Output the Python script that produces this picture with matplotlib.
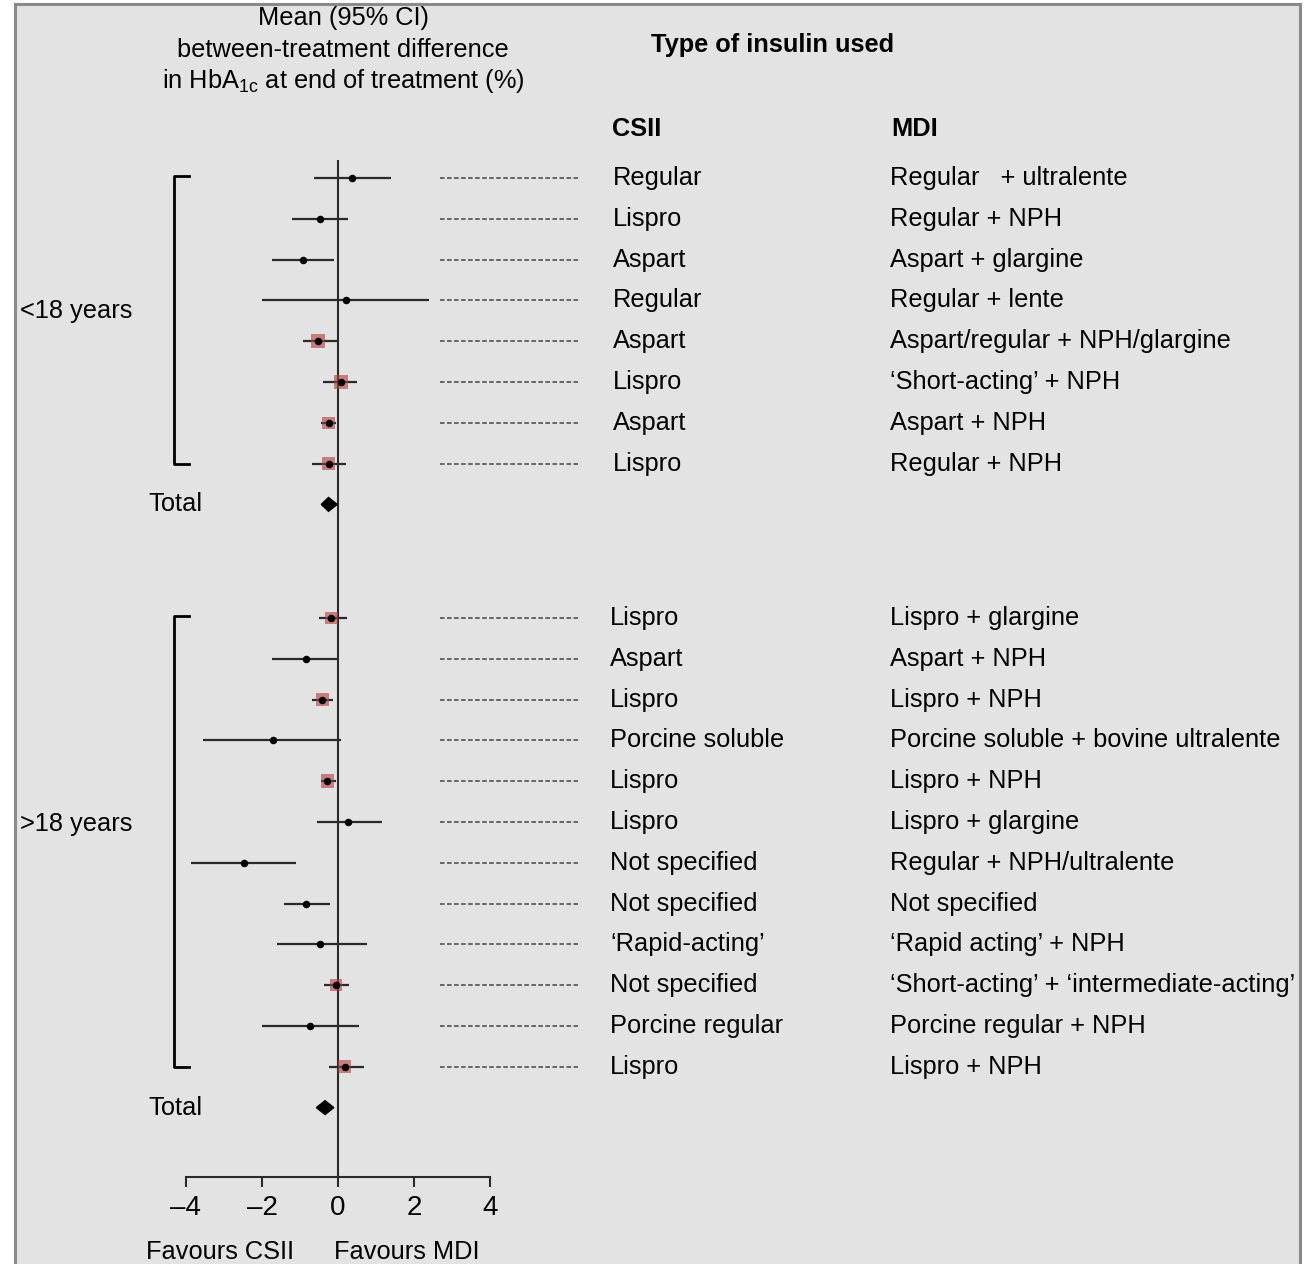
import matplotlib
matplotlib.use('Agg')
import matplotlib.pyplot as plt
from matplotlib.patches import Rectangle
from matplotlib.transforms import blended_transform_factory

plt.rcParams['font.family'] = ['Liberation Sans', 'DejaVu Sans']
plt.rcParams['mathtext.fontset'] = 'custom'
plt.rcParams['mathtext.rm'] = 'Liberation Sans'

# ---- data: <18 years ----
young_mean = [0.38, -0.47, -0.92, 0.20, -0.53, 0.07, -0.25, -0.25]
young_lo = [-0.63, -1.21, -1.73, -2.00, -0.91, -0.39, -0.46, -0.69]
young_hi = [1.40, 0.27, -0.10, 2.39, 0.00, 0.50, -0.04, 0.22]
young_weight = [0, 0, 0, 0, 110, 100, 80, 80]
young_csii = ['Regular', 'Lispro', 'Aspart', 'Regular', 'Aspart', 'Lispro', 'Aspart', 'Lispro']
young_mdi = ['Regular   + ultralente', 'Regular + NPH', 'Aspart + glargine', 'Regular + lente',
             'Aspart/regular + NPH/glargine', '\u2018Short-acting\u2019 + NPH', 'Aspart + NPH',
             'Regular + NPH']
young_total = [-0.25, -0.44, -0.02]  # mean, lo, hi

# ---- data: >18 years ----
adult_mean = [-0.18, -0.85, -0.41, -1.71, -0.28, 0.25, -2.48, -0.85, -0.47, -0.04, -0.74, 0.18]
adult_lo = [-0.50, -1.73, -0.68, -3.55, -0.44, -0.55, -3.88, -1.42, -1.61, -0.38, -2.00, -0.24]
adult_hi = [0.23, 0.00, -0.12, 0.07, -0.04, 1.16, -1.10, -0.22, 0.76, 0.30, 0.54, 0.68]
adult_weight = [85, 0, 95, 0, 95, 0, 0, 0, 0, 75, 0, 90]
adult_csii = ['Lispro', 'Aspart', 'Lispro', 'Porcine soluble', 'Lispro', 'Lispro', 'Not specified',
              'Not specified', '\u2018Rapid-acting\u2019', 'Not specified', 'Porcine regular', 'Lispro']
adult_mdi = ['Lispro + glargine', 'Aspart + NPH', 'Lispro + NPH', 'Porcine soluble + bovine ultralente',
             'Lispro + NPH', 'Lispro + glargine', 'Regular + NPH/ultralente', 'Not specified',
             '\u2018Rapid acting\u2019 + NPH', '\u2018Short-acting\u2019 + \u2018intermediate-acting\u2019',
             'Porcine regular + NPH', 'Lispro + NPH']
adult_total = [-0.34, -0.57, -0.11]

xticks = [-4, -2, 0, 2, 4]
xticklabels = ['\u20134', '\u20132', '0', '2', '4']

W, H = 1314, 1264
FS = 18.3
fig = plt.figure(figsize=(W / 100, H / 100), dpi=100, facecolor='white')


def fx(p):
    return p / W


def fy(p):
    return 1 - p / H


# grey panel with border
fig.patches.append(Rectangle((fx(15), -0.05), fx(1300 - 15), fy(4) + 0.05,
                             transform=fig.transFigure, facecolor='#e3e3e3',
                             edgecolor='#8a8a8a', linewidth=2.2, zorder=-5))

row_px = 40.8
ax = fig.add_axes([fx(186), fy(1177), fx(490 - 186), (1177 - 160) / H])
ax.set_facecolor('none')
ax.set_zorder(2)
trans = blended_transform_factory(fig.transFigure, ax.transData)

young_y = list(range(len(young_mean)))
young_tot_y = len(young_mean)
adult_start = (618 - 178) / row_px
adult_y = [adult_start + i for i in range(len(adult_mean))]
adult_tot_y = adult_start + len(adult_mean)

ax.axvline(0, color='#2a2a2a', lw=1.5, zorder=2)


def draw_group(ys, mean, lo, hi, weight, csii, mdi, tot, tot_y, label, label_y, csii_x):
    ax.hlines(ys, lo, hi, color='#2a2a2a', lw=1.6, zorder=3)
    red = [i for i in range(len(ys)) if weight[i] > 0]
    ax.scatter([mean[i] for i in red], [ys[i] for i in red], s=[weight[i] for i in red],
               marker='s', color='#b23a3a', alpha=0.6, linewidths=0, zorder=3)
    ax.plot(mean, ys, 'o', ms=4.4, color='black', zorder=4)
    m, l, h = tot
    ax.fill([l, m, h, m], [tot_y, tot_y - 0.17, tot_y, tot_y + 0.17], color='black', zorder=4)
    # bracket
    ax.plot([fx(189), fx(174), fx(174), fx(189)], [ys[0] - 0.06, ys[0] - 0.06, ys[-1], ys[-1]],
            transform=trans, color='black', lw=2, clip_on=False)
    ax.text(fx(20), label_y, label, transform=trans, fontsize=FS, va='center', ha='left')
    ax.text(fx(148), tot_y, 'Total', transform=trans, fontsize=FS, va='center', ha='left')
    for i, y in enumerate(ys):
        ax.plot([fx(440), fx(578)], [y, y], transform=trans, color='#444444', lw=1.1,
                ls=(0, (3, 1.6)), clip_on=False)
        ax.text(csii_x, y, csii[i], transform=trans, fontsize=FS, va='center', ha='left')
        ax.text(fx(890), y, mdi[i], transform=trans, fontsize=FS, va='center', ha='left')


draw_group(young_y, young_mean, young_lo, young_hi, young_weight, young_csii, young_mdi,
           young_total, young_tot_y, '<18 years', (311 - 178) / row_px, fx(613))
draw_group(adult_y, adult_mean, adult_lo, adult_hi, adult_weight, adult_csii, adult_mdi,
           adult_total, adult_tot_y, '>18 years', (824 - 178) / row_px, fx(610))

ax.set_xlim(-4, 4)
ax.set_ylim((1177 - 178) / row_px, (160 - 178) / row_px)
for s in ['left', 'right', 'top']:
    ax.spines[s].set_visible(False)
ax.spines['bottom'].set_color('#2a2a2a')
ax.spines['bottom'].set_linewidth(1.5)
ax.set_yticks([])
ax.set_xticks(xticks)
ax.set_xticklabels(xticklabels, fontsize=20)
ax.tick_params(axis='x', length=7, width=1.5, color='#2a2a2a', pad=6)

# headers
fig.text(fx(343), fy(18), 'Mean (95% CI)', fontsize=FS, ha='center', va='center')
fig.text(fx(343), fy(50), 'between-treatment difference', fontsize=FS, ha='center', va='center')
fig.text(fx(343), fy(81), r'in HbA$_{\mathregular{1c}}$ at end of treatment (%)', fontsize=FS,
         ha='center', va='center')
fig.text(fx(773), fy(45), 'Type of insulin used', fontsize=FS, fontweight='bold',
         ha='center', va='center')
fig.text(fx(612), fy(129), 'CSII', fontsize=FS, fontweight='bold', ha='left', va='center')
fig.text(fx(891), fy(129), 'MDI', fontsize=FS, fontweight='bold', ha='left', va='center')
fig.text(fx(220), fy(1252), 'Favours CSII', fontsize=FS, ha='center', va='center')
fig.text(fx(407), fy(1252), 'Favours MDI', fontsize=FS, ha='center', va='center')

fig.savefig('out.png', dpi=100, facecolor=fig.get_facecolor())
